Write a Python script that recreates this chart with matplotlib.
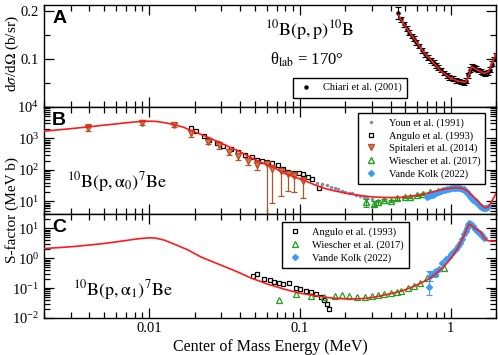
import numpy as np
import matplotlib
matplotlib.use('Agg')
import matplotlib.pyplot as plt
from matplotlib.ticker import LogLocator, FixedLocator, FuncFormatter, MultipleLocator, NullFormatter

plt.rcParams['font.family'] = 'serif'
plt.rcParams['font.serif'] = ['Liberation Serif', 'DejaVu Serif']
plt.rcParams['mathtext.fontset'] = 'stix'

# ---- Panel A: 10B(p,p)10B elastic scattering ----
fitA_x = [0.45, 0.50, 0.57, 0.66, 0.78, 0.86, 1.00, 1.12, 1.25, 1.30, 1.35, 1.38, 1.45, 1.55, 1.67, 1.79, 1.90, 2.00]
fitA_y = [0.192, 0.168, 0.143, 0.115, 0.090, 0.075, 0.060, 0.054, 0.051, 0.060, 0.076, 0.084, 0.080, 0.075, 0.070, 0.074, 0.094, 0.110]

chiari_x = [0.45, 0.47, 0.49, 0.51, 0.53, 0.55, 0.57, 0.59, 0.62, 0.65, 0.68, 0.71, 0.74, 0.77,
            0.80, 0.83, 0.86, 0.90, 0.94, 0.98, 1.03, 1.08, 1.13, 1.18, 1.23, 1.27, 1.31, 1.35,
            1.39, 1.43, 1.48, 1.53, 1.58, 1.64, 1.70, 1.76, 1.82, 1.88, 1.94, 1.99]
chiari_y = [0.196, 0.183, 0.172, 0.163, 0.155, 0.148, 0.142, 0.135, 0.127, 0.118, 0.110, 0.103, 0.097, 0.092,
            0.087, 0.082, 0.077, 0.071, 0.066, 0.062, 0.059, 0.056, 0.054, 0.052, 0.051, 0.055, 0.066, 0.078,
            0.084, 0.083, 0.080, 0.077, 0.074, 0.071, 0.070, 0.072, 0.078, 0.090, 0.100, 0.108]
chiari_err = [0.012] + [0.005] * 39

# ---- Panel B: 10B(p,a0)7Be ----
fitB_x = [0.002, 0.003, 0.004, 0.005, 0.006, 0.007, 0.008, 0.009, 0.010, 0.011, 0.012, 0.013, 0.0146,
          0.017, 0.019, 0.0225, 0.025, 0.029, 0.0334, 0.040, 0.047, 0.055, 0.067, 0.078, 0.09, 0.10,
          0.115, 0.131, 0.15, 0.175, 0.20, 0.22, 0.25, 0.30, 0.35, 0.40, 0.47, 0.55, 0.62, 0.70, 0.80,
          0.90, 1.0, 1.1, 1.2, 1.3, 1.4, 1.5, 1.6, 1.67, 1.72, 1.78, 1.85, 1.92, 2.0]
fitB_y = [1700, 2050, 2350, 2650, 2900, 3150, 3350, 3500, 3550, 3500, 3300, 3100, 2750,
          2250, 1750, 1300, 1050, 760, 560, 380, 250, 175, 120, 80, 62, 52,
          40, 31, 25, 21, 18.5, 17, 15.5, 14, 13.5, 13.3, 13.5, 14.8, 16.2, 18.2, 21.5,
          24.5, 26.5, 27.5, 26, 21, 15, 11, 7.8, 6.5, 6.2, 6.8, 9, 12.5, 18]

youn_x = [0.13, 0.14, 0.15, 0.16, 0.17, 0.18, 0.19, 0.20, 0.21, 0.22, 0.235, 0.25, 0.265, 0.28, 0.30]
youn_y = [40, 37, 33, 29, 26, 24, 22, 20, 19, 18, 16.5, 15, 14, 13.2, 12.3]

angB_x = [0.019, 0.0205, 0.023, 0.025, 0.028, 0.031, 0.035, 0.039, 0.043, 0.048, 0.052, 0.056,
          0.060, 0.065, 0.071, 0.077, 0.083, 0.091, 0.098, 0.105, 0.113, 0.12, 0.133]
angB_y = [2200, 1700, 1200, 900, 700, 560, 450, 380, 310, 250, 210, 190,
          180, 165, 145, 110, 88, 82, 78, 72, 62, 50, 27]

spit_x = [0.0039, 0.009, 0.0145, 0.019, 0.0245, 0.029, 0.034, 0.039, 0.045, 0.052, 0.060, 0.065,
          0.075, 0.083, 0.091, 0.105]
spit_y = [2200, 3200, 2700, 1500, 800, 600, 380, 270, 190, 140, 150, 110, 90, 75, 65, 45]
spit_lo = [1750, 2700, 2300, 1150, 650, 470, 300, 210, 140, 100, 3, 9, 15, 21, 20, 12.5]
spit_hi = [2800, 3800, 3200, 1900, 950, 750, 470, 330, 240, 190, 190, 140, 115, 95, 85, 60]

wieB_x = [0.275, 0.31, 0.33, 0.36, 0.40, 0.44, 0.50, 0.54, 0.60, 0.66, 0.73, 0.82]
wieB_y = [9.3, 8.6, 9.5, 11, 10.5, 12.5, 13.5, 14, 15.6, 17.5, 19.5, 22]
wieB_err = [2.5, 1.5, 1.5, 1, 1, 1, 1, 1, 1, 1, 1, 1]

vkB_x = [0.70, 0.72, 0.74, 0.76, 0.78, 0.80, 0.83, 0.86, 0.89, 0.92, 0.95, 0.98, 1.01, 1.04, 1.07,
         1.10, 1.13, 1.16, 1.19, 1.22, 1.25, 1.28, 1.31, 1.34, 1.37, 1.40, 1.44, 1.48, 1.52, 1.56,
         1.60, 1.64, 1.68, 1.72, 1.76]
vkB_y = [14, 15, 16, 16.5, 17.5, 18.5, 19.5, 21, 22.5, 23.5, 24.5, 25.5, 26, 26.5, 27,
         27, 26.5, 26, 25, 24, 22, 19.5, 17, 14.5, 12.5, 11, 10, 9.3, 8.2, 7.3,
         6.7, 6.3, 6.0, 6.0, 6.5]

# ---- Panel C: 10B(p,a1)7Be ----
fitC_x = [0.002, 0.003, 0.004, 0.005, 0.006, 0.007, 0.008, 0.009, 0.010, 0.011, 0.0126, 0.015, 0.018,
          0.022, 0.027, 0.033, 0.040, 0.047, 0.055, 0.061, 0.07, 0.078, 0.09, 0.10, 0.115, 0.131,
          0.15, 0.167, 0.2, 0.22, 0.25, 0.28, 0.32, 0.36, 0.41, 0.47, 0.52, 0.57, 0.63, 0.70, 0.76,
          0.83, 0.90, 0.97, 1.05, 1.12, 1.18, 1.23, 1.28, 1.33, 1.37, 1.45, 1.58, 1.66, 1.75, 1.85, 2.0]
fitC_y = [2.1, 2.4, 2.75, 3.1, 3.5, 3.9, 4.3, 4.6, 4.8, 4.7, 4.0, 2.8, 1.9,
          1.1, 0.72, 0.48, 0.32, 0.22, 0.165, 0.135, 0.11, 0.093, 0.077, 0.068, 0.06, 0.054,
          0.049, 0.046, 0.044, 0.043, 0.044, 0.046, 0.051, 0.058, 0.067, 0.079, 0.095, 0.115, 0.145, 0.19, 0.25,
          0.36, 0.52, 0.8, 1.35, 2.3, 3.8, 6.0, 9.5, 14, 12.5, 10, 7.5, 4.8, 3.9, 3.7, 3.7]

angC_x = [0.049, 0.052, 0.058, 0.063, 0.067, 0.073, 0.077, 0.085, 0.094, 0.10, 0.11, 0.118, 0.128,
          0.138, 0.145, 0.15, 0.155]
angC_y = [0.25, 0.29, 0.2, 0.185, 0.16, 0.147, 0.135, 0.147, 0.1, 0.093, 0.079, 0.074, 0.063,
          0.05, 0.04, 0.03, 0.02]

wieC_x = [0.073, 0.094, 0.118, 0.145, 0.17, 0.19, 0.21, 0.24, 0.27, 0.30, 0.33, 0.36, 0.40, 0.44,
          0.47, 0.52, 0.57, 0.63, 0.70, 0.79, 0.90]
wieC_y = [0.04, 0.063, 0.055, 0.05, 0.054, 0.057, 0.056, 0.05, 0.052, 0.055, 0.058, 0.064, 0.069, 0.075,
          0.082, 0.097, 0.12, 0.15, 0.21, 0.31, 0.47]

vkC_x = [0.72, 0.73, 0.77, 0.80, 0.84, 0.88, 0.93, 0.97, 1.0, 1.04, 1.08, 1.12, 1.15, 1.19, 1.23,
         1.26, 1.29, 1.31, 1.33, 1.36, 1.41, 1.45, 1.49, 1.54, 1.58, 1.62, 1.66]
vkC_y = [0.11, 0.25, 0.29, 0.36, 0.43, 0.68, 0.92, 1.1, 1.35, 1.6, 2.0, 2.6, 3.2, 4.5, 6.3,
         8, 10, 12.5, 14.7, 13.5, 11.7, 9.5, 7.9, 7, 6.3, 5.4, 4.6]
vkC_lo = [0.05, 0.08, 0.05, 0.06, 0.05] + [0] * 22
vkC_hi = [0.27, 0.10, 0.08, 0.06, 0.05] + [0] * 22

RED = '#ff1a1a'
SIENNA = '#b0522a'
GREEN = '#1f9e1f'
BLUE = '#3d9cf5'

W, H = 498, 355
fig = plt.figure(figsize=(W / 100, H / 100), dpi=100)

def px_axes(top, bottom):
    return fig.add_axes([44 / W, 1 - bottom / H, 452 / W, (bottom - top) / H])

axA = px_axes(5, 107)
axB = px_axes(107, 214)
axC = px_axes(214, 318)

for ax in (axA, axB, axC):
    ax.set_xscale('log')
    ax.set_xlim(0.002, 2.0)
    ax.xaxis.set_major_locator(FixedLocator([0.01, 0.1, 1]))
    ax.xaxis.set_minor_locator(LogLocator(base=10, subs=np.arange(2, 10), numticks=20))
    ax.tick_params(which='both', direction='in', top=True, right=True, labelsize=10.5, width=0.9)
    ax.tick_params(which='major', length=7)
    ax.tick_params(which='minor', length=4)
    for s in ax.spines.values():
        s.set_linewidth(1.0)
    if ax is not axC:
        ax.xaxis.set_major_formatter(NullFormatter())
    ax.xaxis.set_minor_formatter(NullFormatter())

axC.xaxis.set_major_formatter(FuncFormatter(lambda v, p: '%g' % v))
axC.tick_params(axis='x', which='major', pad=3)

# Panel A
axA.set_ylim(0, 0.2125)
axA.yaxis.set_major_locator(FixedLocator([0.1, 0.2]))
axA.yaxis.set_minor_locator(MultipleLocator(0.05))
axA.errorbar(chiari_x, chiari_y, yerr=chiari_err, fmt='o', ms=2.2, color='black',
             elinewidth=0.8, capsize=2.5, capthick=0.8, zorder=2)
hA, = axA.plot([], [], 'o', ms=2.2, color='black', label='Chiari et al. (2001)')
axA.plot(fitA_x, fitA_y, '-', color=RED, lw=1.2, zorder=3)
axA.text(0.49, 0.70, r'$^{10}\mathrm{B(p,p)}^{10}\mathrm{B}$', transform=axA.transAxes, fontsize=13)
axA.text(0.50, 0.42, r'θ$_{\mathrm{lab}}$ = 170°', transform=axA.transAxes, fontsize=12)

# Panel B
axB.set_yscale('log')
axB.set_ylim(4, 1e4)
h1, = axB.plot(youn_x, youn_y, '.', ms=3, color='#7f8fb0', label='Youn et al. (1991)', zorder=2)
h2, = axB.plot(angB_x, angB_y, 's', ms=3.5, mfc='none', mec='black', mew=0.9, label='Angulo et al. (1993)', zorder=2)
spit_err = [np.array(spit_y) - np.array(spit_lo), np.array(spit_hi) - np.array(spit_y)]
axB.errorbar(spit_x, spit_y, yerr=spit_err, fmt='none', color=SIENNA,
             elinewidth=0.9, capsize=2.5, capthick=0.9, zorder=2)
h3, = axB.plot(spit_x, spit_y, 'v', ms=4, mfc='#e07a4a', mec=SIENNA, label='Spitaleri et al. (2014)', zorder=2)
axB.errorbar(wieB_x, wieB_y, yerr=wieB_err, fmt='none', color=GREEN,
             elinewidth=0.8, capsize=2, capthick=0.8, zorder=2)
h4, = axB.plot(wieB_x, wieB_y, '^', ms=4, mfc='none', mec=GREEN, label='Wiescher et al. (2017)', zorder=2)
h5, = axB.plot(vkB_x, vkB_y, 'D', ms=3, color=BLUE, label='Vande Kolk (2022)', zorder=2)
axB.plot(fitB_x, fitB_y, '-', color=RED, lw=1.2, zorder=3)
axB.text(0.05, 0.25, r'$^{10}\mathrm{B(p,\alpha_0)}^7\mathrm{Be}$', transform=axB.transAxes, fontsize=13)

# Panel C
axC.set_yscale('log')
axC.set_ylim(0.01, 30)
c1, = axC.plot(angC_x, angC_y, 's', ms=3.5, mfc='none', mec='black', mew=0.9, label='Angulo et al. (1993)', zorder=2)
c2, = axC.plot(wieC_x, wieC_y, '^', ms=4, mfc='none', mec=GREEN, mew=0.9, label='Wiescher et al. (2017)', zorder=2)
axC.errorbar(vkC_x, vkC_y, yerr=[vkC_lo, vkC_hi], fmt='none', color=BLUE,
             elinewidth=0.8, capsize=2.5, capthick=0.8, zorder=2)
c3, = axC.plot(vkC_x, vkC_y, 'D', ms=3, color=BLUE, label='Vande Kolk (2022)', zorder=2)
axC.plot(fitC_x, fitC_y, '-', color=RED, lw=1.2, zorder=3)
axC.text(0.065, 0.22, r'$^{10}\mathrm{B(p,\alpha_1)}^7\mathrm{Be}$', transform=axC.transAxes, fontsize=13)

for ax in (axB, axC):
    ax.yaxis.set_major_locator(LogLocator(base=10, numticks=20))
    ax.yaxis.set_minor_locator(LogLocator(base=10, subs=np.arange(2, 10), numticks=20))
    ax.yaxis.set_minor_formatter(NullFormatter())

# panel letters
for ax, lab in ((axA, 'A'), (axB, 'B'), (axC, 'C')):
    ax.text(0.018, 0.95, lab, transform=ax.transAxes, fontsize=14, fontweight='bold',
            family='Liberation Sans', va='top', ha='left')

# legends
legkw = dict(frameon=True, fancybox=False, edgecolor='black', framealpha=1, borderpad=0.5,
             handletextpad=0.9, handlelength=1.5, labelspacing=0.3, fontsize=7.5)
legA = axA.legend(handles=[hA], loc='center', bbox_to_anchor=(0.677, 0.19), **legkw)
legB = axB.legend(handles=[h1, h2, h3, h4, h5], loc='center', bbox_to_anchor=(0.836, 0.612), **legkw)
legC = axC.legend(handles=[c1, c2, c3], loc='center', bbox_to_anchor=(0.666, 0.70), **legkw)
for leg in (legA, legB, legC):
    leg.get_frame().set_linewidth(1.0)

# axis labels
fig.text(12 / W, 1 - 54 / H, r'd$\sigma$/d$\Omega$ (b/sr)', rotation=90, ha='center', va='center', fontsize=11)
fig.text(12 / W, 1 - 210 / H, 'S-factor (MeV b)', rotation=90, ha='center', va='center', fontsize=11)
fig.text(270 / W, 1 - 347 / H, 'Center of Mass Energy (MeV)', ha='center', va='center', fontsize=11.5)

fig.savefig('out.png', dpi=100)
